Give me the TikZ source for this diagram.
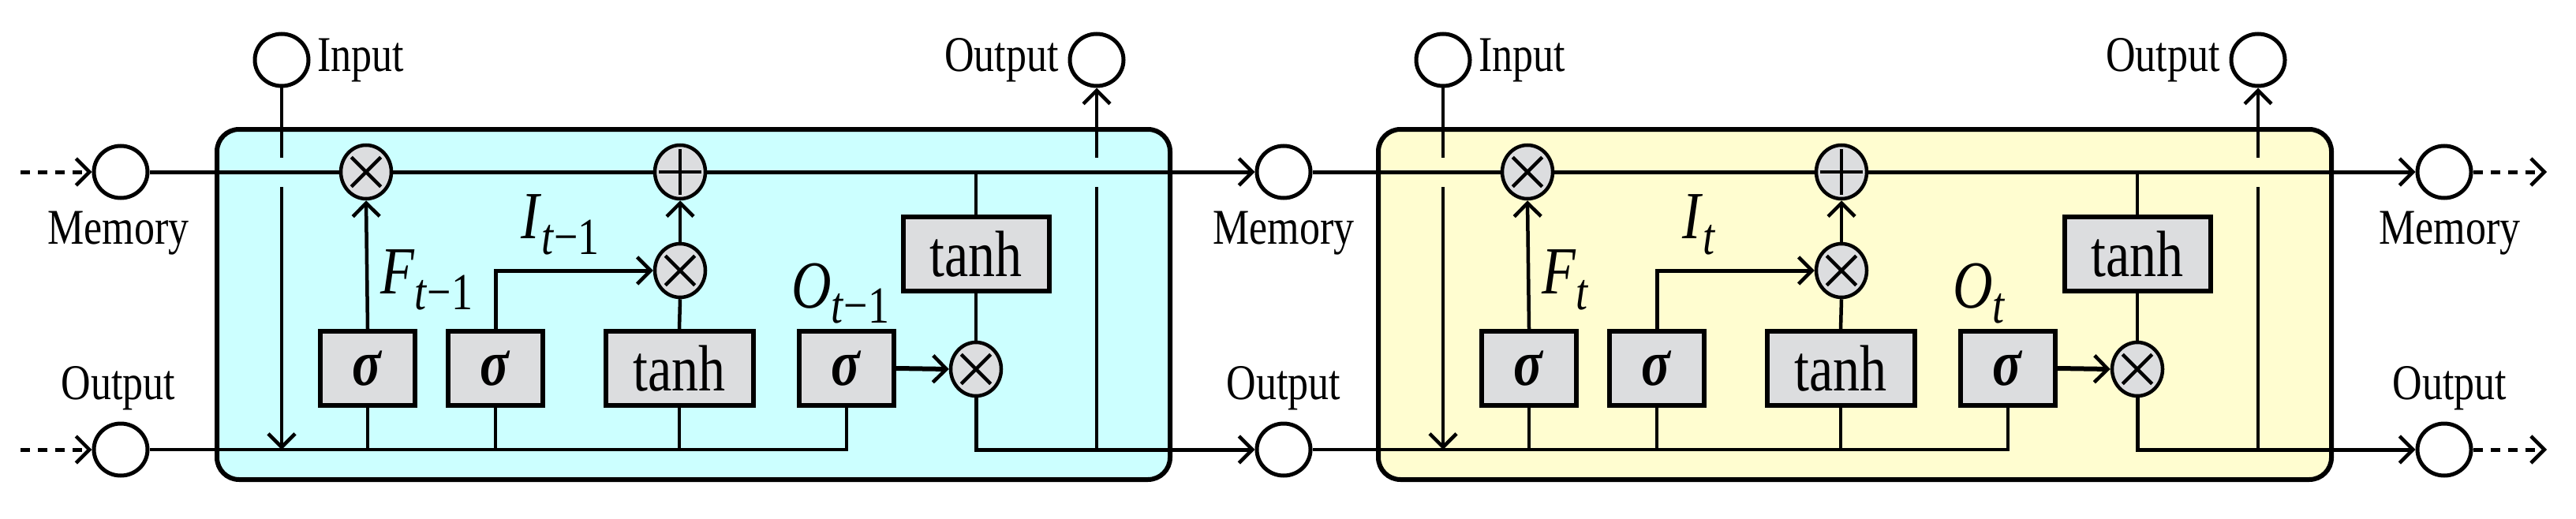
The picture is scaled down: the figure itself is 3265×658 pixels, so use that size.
\documentclass[tikz,border=0pt]{standalone}
\usepackage{fontspec}
\setmainfont{Liberation Serif}
\usetikzlibrary{arrows.meta,calc,shapes.geometric}
\definecolor{cyanbg}{HTML}{CCFFFF}
\definecolor{yellbg}{HTML}{FFFDD0}
\definecolor{gatebg}{HTML}{DCDDDF}
\newcommand\tall[1]{\scalebox{1}[1.22]{#1}}
\newcommand\gsym[2]{\tall{\textit{#1}\raisebox{-16pt}{\fontsize{54}{54}\selectfont\textit{t}#2}}}
\tikzset{
  ar/.style={-{Straight Barb[length=17pt,width=34pt,line width=4.5pt]}},
  io/.style={ellipse,draw,line width=5pt,minimum width=68pt,minimum height=66pt,inner sep=0pt,fill=white},
  op/.style={ellipse,draw,line width=4.5pt,minimum width=64pt,minimum height=68pt,inner sep=0pt,fill=gatebg},
  gate/.style={draw,line width=6pt,fill=gatebg,minimum height=94pt,inner sep=0pt,font=\fontsize{68}{70}\selectfont},
  lbl/.style={font=\fontsize{52}{56}\selectfont,inner sep=0pt},
  mlbl/.style={font=\fontsize{70}{70}\selectfont,inner sep=0pt},
  wire/.style={line width=4.5pt},
  cellbox/.style={draw,line width=6pt,rounded corners=28pt},
}
\newcommand\lstmcell[6]{% prefix, xshift, fill, subscript, left prefix, right prefix
\begin{scope}[xshift=#2pt]
  \draw[cellbox,fill=#3] (275,164) rectangle (1483,608);
  \node[io] (#1in) at (357,76) {};
  \node[lbl,anchor=west] (#1inl) at (402,76) {\tall{Input}};
  \node[io] (#1ot) at (1390,76) {};
  \node[lbl,anchor=east] (#1otl) at (1342,76) {\tall{Output}};
  \node[op] (#1xf) at (464,218) {};
  \node[op] (#1pl) at (862,218) {};
  \node[op] (#1xi) at (862,343) {};
  \node[op] (#1xo) at (1237,468) {};
  \node[gate,minimum width=120pt] (#1s1) at (466,467) {\tall{\textbf{\textit{σ}}}};
  \node[gate,minimum width=120pt] (#1s2) at (628,467) {\tall{\textbf{\textit{σ}}}};
  \node[gate,minimum width=187pt] (#1th) at (861,467) {\tall{tanh}};
  \node[gate,minimum width=120pt] (#1s3) at (1073,467) {\tall{\textbf{\textit{σ}}}};
  \node[gate,minimum width=185pt] (#1tt) at (1237,322) {\tall{tanh}};
  \foreach \n in {xf,xi,xo}{
    \draw[line width=4.5pt] ($(#1\n.center)!0.75!(#1\n.45)$) -- ($(#1\n.center)!0.75!(#1\n.225)$);
    \draw[line width=4.5pt] ($(#1\n.center)!0.75!(#1\n.135)$) -- ($(#1\n.center)!0.75!(#1\n.315)$);}
  \draw[line width=4.5pt] ($(#1pl.center)!0.8!(#1pl.north)$) -- ($(#1pl.center)!0.8!(#1pl.south)$);
  \draw[line width=4.5pt] ($(#1pl.center)!0.8!(#1pl.west)$) -- ($(#1pl.center)!0.8!(#1pl.east)$);
  \coordinate (#1ia) at (357,200); \coordinate (#1ib) at (357,237);
  \coordinate (#1oa) at (1390,237); \coordinate (#1ob) at (1390,200);
  \coordinate (#1mt) at (1237,218);
  \draw[line width=5pt] (#5mem) -- (#1xf) -- (#1pl);
  \draw[line width=5pt,ar] (#1pl) -- (#6mem);
  \draw[wire] (#5out) -- (#1s3.south |- #5out) -- (#1s3.south);
  \draw[wire] (#1s1.south) -- (#1s1.south |- #5out);
  \draw[wire] (#1s2.south) -- (#1s2.south |- #5out);
  \draw[wire] (#1th.south) -- (#1th.south |- #5out);
  \draw[line width=5pt,ar] (#1xo.south) |- (#6out);
  \draw[wire] (#1in.south) -- (#1ia);
  \draw[wire,ar] (#1ib) -- (#1ib |- #5out);
  \draw[wire] (#1oa |- #6out) -- (#1oa);
  \draw[wire,ar] (#1ob) -- (#1ot.south);
  \draw[wire,ar] (#1s1.north) -- (#1xf.south);
  \draw[line width=5pt,ar] (#1s2.north) |- (#1xi.west);
  \draw[wire] (#1th.north) -- (#1xi.south);
  \draw[wire,ar] (#1xi.north) -- (#1pl.south);
  \draw[line width=6pt,ar] (#1s3.east) -- (#1xo.west);
  \draw[wire] (#1mt) -- (#1tt.north);
  \draw[wire] (#1tt.south) -- (#1xo.north);
  \node[mlbl,anchor=west] (#1F) at (482,355) {\gsym{F}{#4}};
  \node[mlbl,anchor=west] (#1I) at (660,285) {\gsym{I}{#4}};
  \node[mlbl,anchor=west] (#1O) at (1003,372) {\gsym{O}{#4}};
\end{scope}}
\begin{document}
\begin{tikzpicture}[x=1pt,y=-1pt]
\useasboundingbox (0,0) rectangle (3265,658);
\node[io] (Lmem) at (153,218) {};
\node[io] (Lout) at (153,570) {};
\node[io] (Mmem) at (1627,218) {};
\node[io] (Mout) at (1627,570) {};
\node[io] (Rmem) at (3098,218) {};
\node[io] (Rout) at (3098,570) {};
\node[lbl] (Lmeml) at (150,296) {\tall{Memory}};
\node[lbl] (Loutl) at (150,492) {\tall{Output}};
\node[lbl] (Mmeml) at (1627,296) {\tall{Memory}};
\node[lbl] (Moutl) at (1627,492) {\tall{Output}};
\node[lbl] (Rmeml) at (3105,296) {\tall{Memory}};
\node[lbl] (Routl) at (3105,492) {\tall{Output}};
\coordinate (Lms) at (26,218); \coordinate (Los) at (26,570);
\coordinate (Rme) at (3228,218); \coordinate (Roe) at (3228,570);
\draw[line width=5pt,dash pattern=on 12pt off 10pt,ar] (Lms) -- (Lmem.west);
\draw[line width=5pt,dash pattern=on 12pt off 10pt,ar] (Los) -- (Lout.west);
\draw[line width=5pt,dash pattern=on 12pt off 10pt,ar] (Rmem.east) -- (Rme);
\draw[line width=5pt,dash pattern=on 12pt off 10pt,ar] (Rout.east) -- (Roe);
\lstmcell{a}{0}{cyanbg}{−1}{L}{M}
\lstmcell{b}{1472}{yellbg}{}{M}{R}
\end{tikzpicture}
\end{document}
